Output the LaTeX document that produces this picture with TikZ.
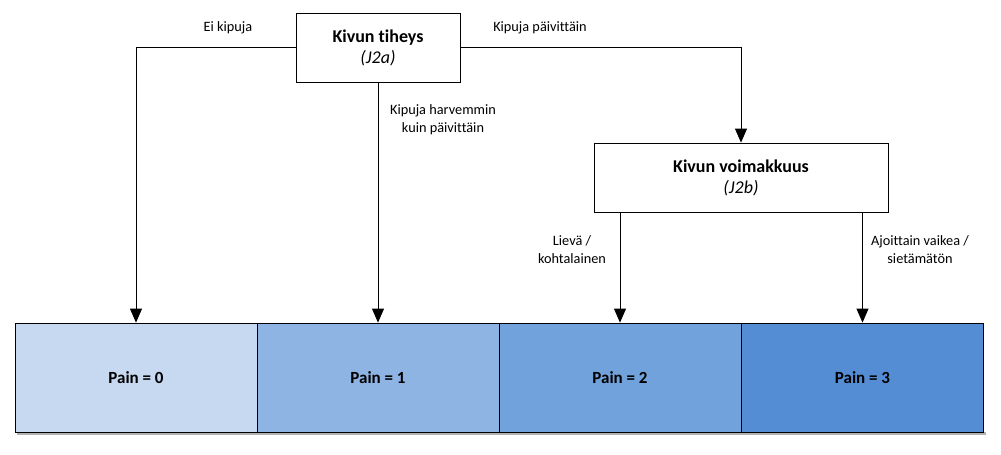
\documentclass[tikz,border=0pt]{standalone}
\usepackage{fontspec}
\setmainfont[Ligatures={NoCommon}]{Carlito}
\usetikzlibrary{arrows.meta}
\definecolor{p0}{RGB}{198,217,241}
\definecolor{p1}{RGB}{142,180,227}
\definecolor{p2}{RGB}{113,162,219}
\definecolor{p3}{RGB}{85,141,212}
\begin{document}
\begin{tikzpicture}[x=1pt,y=-1pt,
  qbox/.style={draw,line width=0.8pt,fill=white,minimum width=164pt,minimum height=69pt,inner sep=0pt,align=center,font=\fontsize{18}{21}\selectfont},
  painbox/.style={draw,line width=0.8pt,minimum width=242pt,minimum height=109pt,inner sep=0pt,font=\fontsize{17}{20}\selectfont\bfseries},
  lbl/.style={align=center,font=\fontsize{14.3}{18}\selectfont},
  arr/.style={line width=0.8pt,-{Triangle[width=12pt,length=14pt]}},
  ln/.style={line width=0.8pt}]
\useasboundingbox (0,0) rectangle (1001,455);
% shadow
\fill[gray!60] (17,432) rectangle (986,435);
\node[painbox,fill=p0] (b0) at (136,377.5) {Pain = 0};
\node[painbox,fill=p1] (b1) at (378,377.5) {Pain = 1};
\node[painbox,fill=p2] (b2) at (620,377.5) {Pain = 2};
\node[painbox,fill=p3] (b3) at (862.5,377.5) {Pain = 3};
\node[qbox] (q1) at (378,47.5) {\textbf{Kivun tiheys}\\\textit{(J2a)}};
\node[qbox,minimum width=294pt] (q2) at (741,177.5) {\textbf{Kivun voimakkuus}\\\textit{(J2b)}};
\coordinate (c0) at (136,47);
\coordinate (c3) at (741,47);
\draw[ln] (q1.west |- c0) -- (c0);
\draw[arr] (c0) -- (b0.north);
\draw[arr] (q1.south) -- (b1.north);
\draw[ln] (q1.east |- c3) -- (c3);
\draw[arr] (c3) -- (q2.north);
\draw[arr] (q2.south -| b2.north) -- (b2.north);
\draw[arr] (q2.south -| b3.north) -- (b3.north);
\node[lbl] (l0) at (228,28) {Ei kipuja};
\node[lbl] (l3) at (540,28) {Kipuja päivittäin};
\node[lbl] (l1) at (443,120) {Kipuja harvemmin\\kuin päivittäin};
\node[lbl] (l2) at (572,250) {Lievä /\\kohtalainen};
\node[lbl] (l4) at (920,250) {Ajoittain vaikea /\\sietämätön};
\end{tikzpicture}
\end{document}
